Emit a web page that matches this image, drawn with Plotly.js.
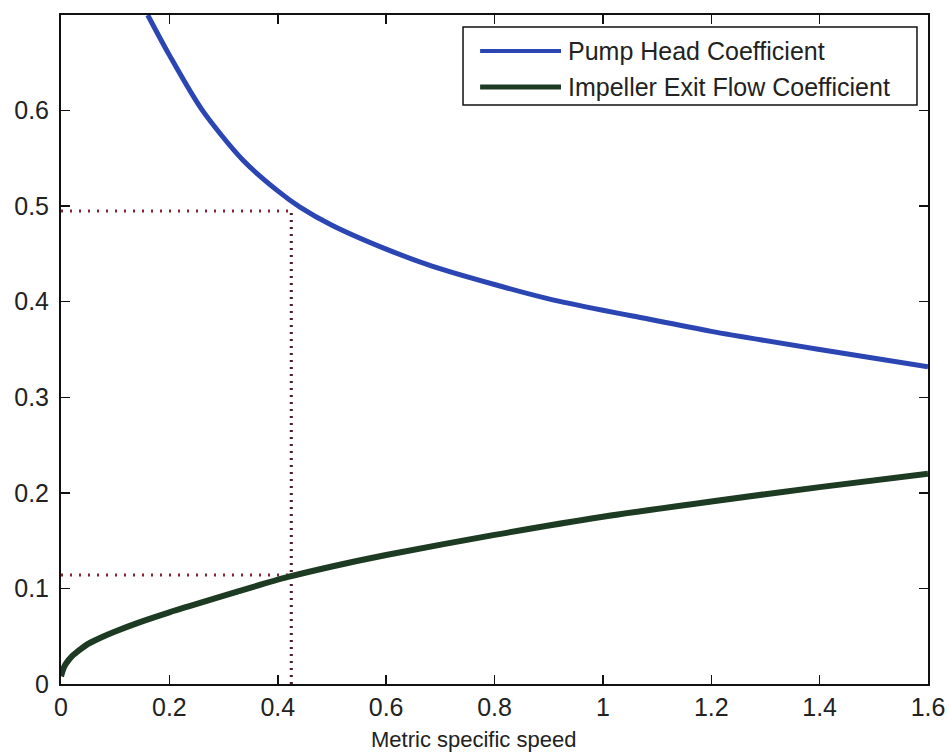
<!DOCTYPE html>
<html>
<head>
<meta charset="utf-8">
<script src="https://cdn.plot.ly/plotly-3.0.1.min.js"></script>
<style>html,body{margin:0;padding:0;background:#fff;}#chart{width:949px;height:753px;}</style>
</head>
<body>
<div id="chart"></div>
<script>
// Pump head coefficient
const headX = [0.160, 0.20, 0.26, 0.336, 0.40, 0.441, 0.50, 0.60, 0.686, 0.80, 0.90, 1.00, 1.055, 1.20, 1.40, 1.60];
const headY = [0.700, 0.658, 0.601, 0.548, 0.516, 0.499, 0.480, 0.455, 0.437, 0.418, 0.403, 0.391, 0.385, 0.369, 0.350, 0.332];
// Impeller exit flow coefficient
const flowX = [0.0, 0.005, 0.01, 0.02, 0.035, 0.05, 0.075, 0.10, 0.142, 0.20, 0.234, 0.327, 0.419, 0.50, 0.60, 0.80, 1.00, 1.20, 1.40, 1.60];
const flowY = [0.008, 0.017, 0.022, 0.029, 0.036, 0.042, 0.049, 0.055, 0.064, 0.075, 0.081, 0.097, 0.112, 0.123, 0.135, 0.156, 0.175, 0.191, 0.206, 0.220];
// Operating-point guide lines
const guideX = 0.425;
const guideHeadY = 0.495;
const guideFlowY = 0.114;
const xTicks = [0, 0.2, 0.4, 0.6, 0.8, 1, 1.2, 1.4, 1.6];
const xTickText = ['0', '0.2', '0.4', '0.6', '0.8', '1', '1.2', '1.4', '1.6'];
const yTicks = [0, 0.1, 0.2, 0.3, 0.4, 0.5, 0.6];
const yTickText = ['0', '0.1', '0.2', '0.3', '0.4', '0.5', '0.6'];
const seriesNames = ['Pump Head Coefficient', 'Impeller Exit Flow Coefficient'];
const seriesColors = ['#2b45b3', '#1d3b22'];
const xTitle = 'Metric specific speed';

const guideStyle = {color: '#8a2232', width: 3, dash: '2px,7px'};
const traces = [
  {x: [0, guideX], y: [guideHeadY, guideHeadY], mode: 'lines', line: guideStyle, showlegend: false, hoverinfo: 'skip'},
  {x: [0, guideX], y: [guideFlowY, guideFlowY], mode: 'lines', line: guideStyle, showlegend: false, hoverinfo: 'skip'},
  {x: [guideX, guideX], y: [0, guideHeadY], mode: 'lines', line: {color: '#4a1a25', width: 3, dash: '2px,5px'}, showlegend: false, hoverinfo: 'skip'},
  {x: headX, y: headY, mode: 'lines', name: seriesNames[0], line: {color: seriesColors[0], width: 5, shape: 'spline', smoothing: 0.8}},
  {x: flowX, y: flowY, mode: 'lines', name: seriesNames[1], line: {color: seriesColors[1], width: 6, shape: 'spline', smoothing: 0.8}}
];

// Legend drawn as a MATLAB-style box (paper coordinates of the plot area)
const shapes = [
  {type: 'rect', xref: 'paper', yref: 'paper', x0: 0.4637, x1: 0.9873, y0: 0.8655, y1: 0.982,
   fillcolor: '#fff', line: {color: '#111', width: 1.5}, layer: 'above'},
  {type: 'line', xref: 'paper', yref: 'paper', x0: 0.4834, x1: 0.5767, y0: 0.9462, y1: 0.9462,
   line: {color: seriesColors[0], width: 4}, layer: 'above'},
  {type: 'line', xref: 'paper', yref: 'paper', x0: 0.4834, x1: 0.5767, y0: 0.8924, y1: 0.8924,
   line: {color: seriesColors[1], width: 5}, layer: 'above'}
];
const annotations = [
  {xref: 'paper', yref: 'paper', x: 0.5825, y: 0.9462, xanchor: 'left', yanchor: 'middle', showarrow: false,
   text: seriesNames[0], font: {size: 25, color: '#222'}},
  {xref: 'paper', yref: 'paper', x: 0.5825, y: 0.8924, xanchor: 'left', yanchor: 'middle', showarrow: false,
   text: seriesNames[1], font: {size: 25, color: '#222'}},
  {xref: 'paper', yref: 'paper', x: 0.476, y: -0.083, xanchor: 'center', yanchor: 'middle', showarrow: false,
   text: xTitle, font: {size: 22, color: '#222'}}
];

const layout = {
  width: 949, height: 753,
  margin: {l: 61, r: 21, t: 15, b: 69},
  paper_bgcolor: '#fff', plot_bgcolor: '#fff',
  font: {family: 'Liberation Sans, Arial, sans-serif', size: 24, color: '#222'},
  showlegend: false,
  shapes: shapes,
  annotations: annotations,
  xaxis: {
    range: [0, 1.6], tickvals: xTicks, ticktext: xTickText,
    ticks: 'inside', ticklen: 9, tickwidth: 1.5, tickcolor: '#111',
    showline: true, linecolor: '#111', linewidth: 2, mirror: 'allticks',
    showgrid: false, zeroline: false,
    tickfont: {size: 25, color: '#222'}
  },
  yaxis: {
    range: [0, 0.7], tickvals: yTicks, ticktext: yTickText,
    ticks: 'inside', ticklen: 9, tickwidth: 1.5, tickcolor: '#111',
    showline: true, linecolor: '#111', linewidth: 2, mirror: 'allticks',
    showgrid: false, zeroline: false, ticklabelstandoff: 5,
    tickfont: {size: 25, color: '#222'}
  }
};

Plotly.newPlot('chart', traces, layout, {displayModeBar: false, staticPlot: true});
</script>
</body>
</html>
